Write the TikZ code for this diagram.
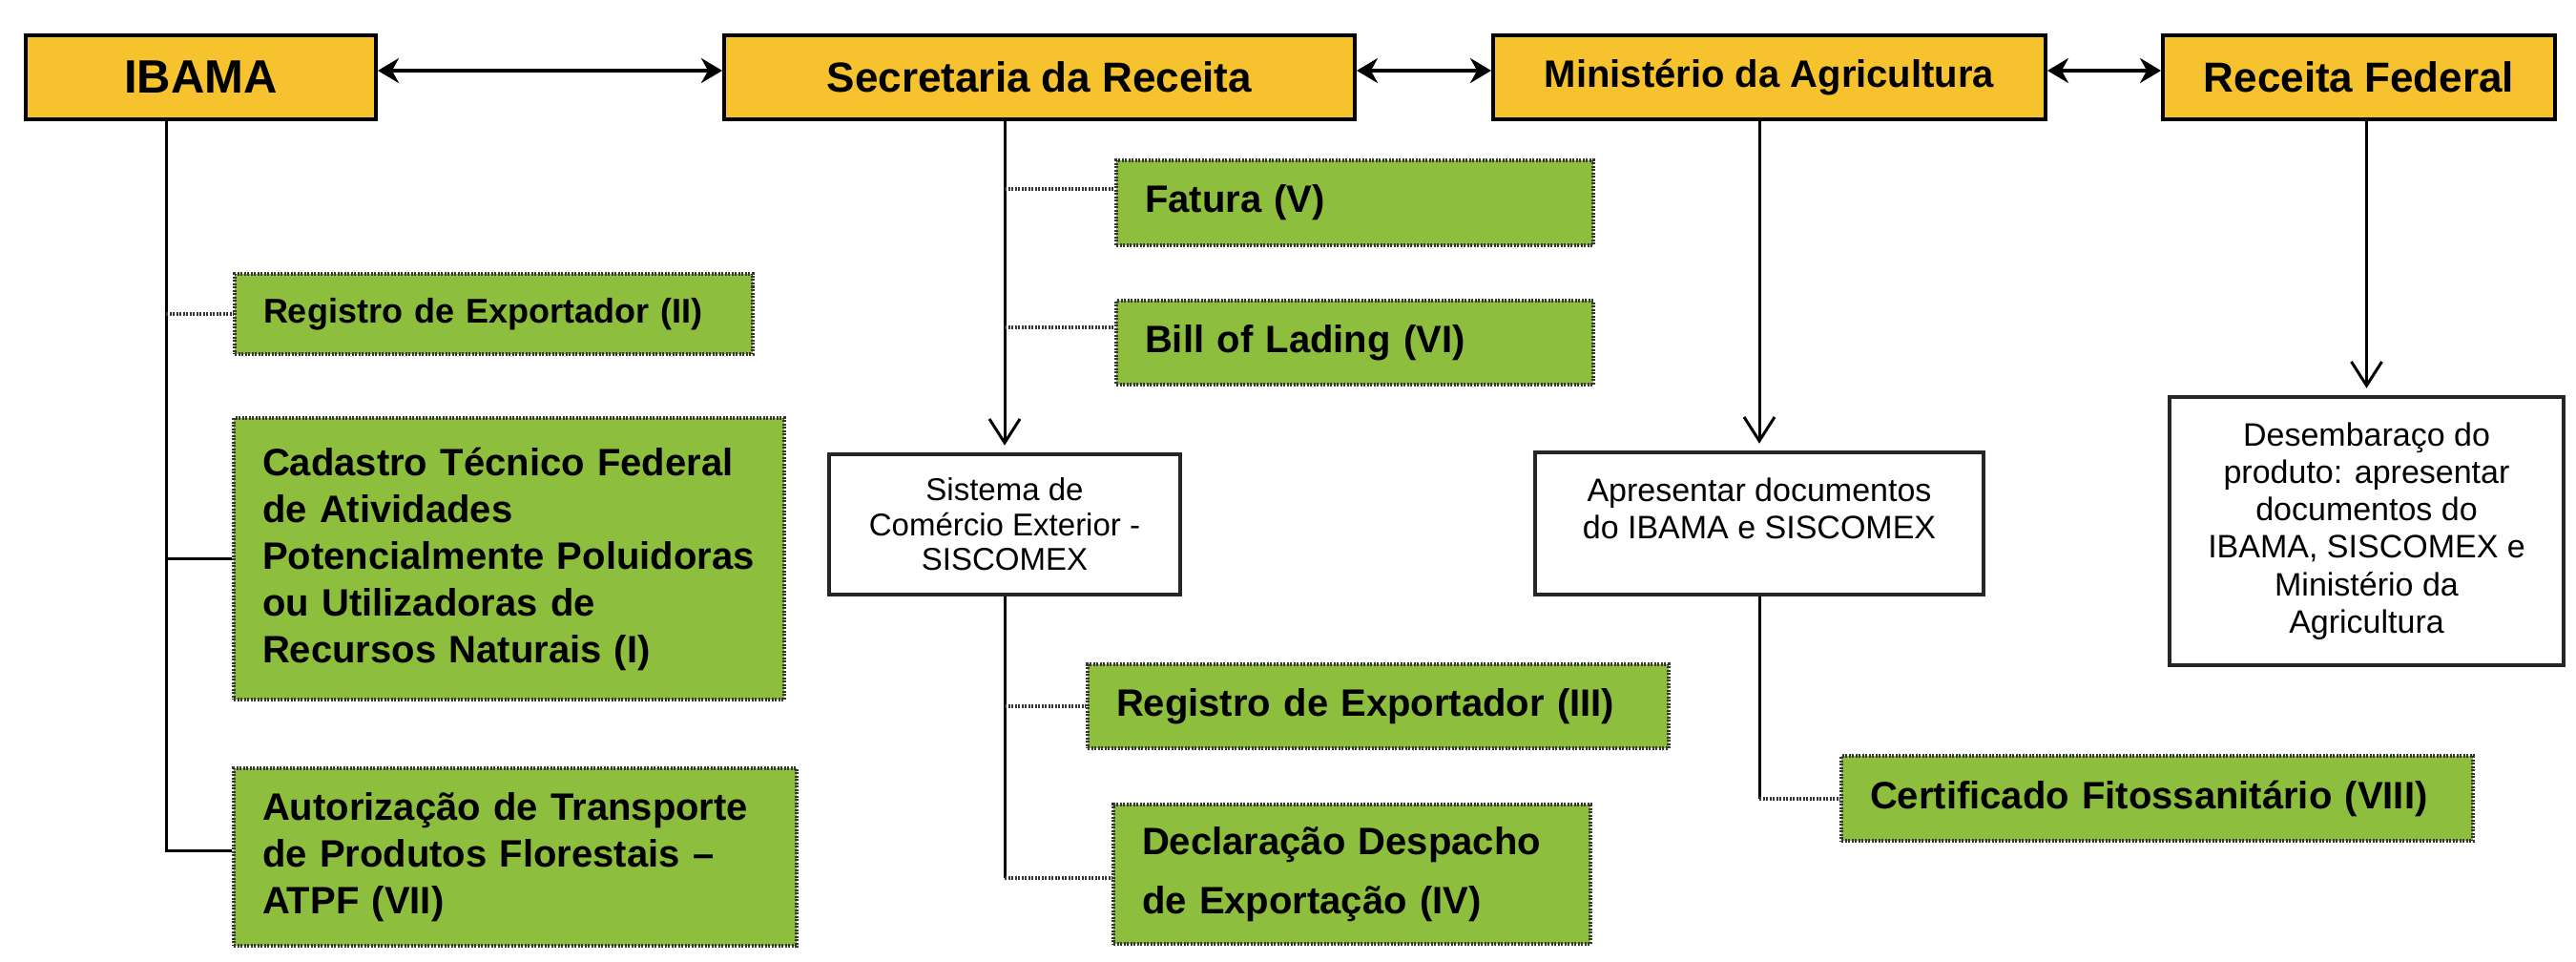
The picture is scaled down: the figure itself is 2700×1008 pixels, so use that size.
\documentclass[tikz,border=0pt]{standalone}
\usepackage{fontspec}
\setmainfont{Liberation Sans}
\usetikzlibrary{arrows.meta,calc}
\definecolor{gold}{RGB}{246,194,46}
\definecolor{leaf}{RGB}{141,190,61}
\definecolor{dotc}{RGB}{55,55,55}
\begin{document}
\begin{tikzpicture}[x=1pt,y=-1pt,
 title/.style={draw=black,line width=4pt,fill=gold,inner sep=0pt,text=black},
 gbox/.style={draw=dotc,line width=3.5pt,dash pattern=on 2pt off 1.5pt,fill=leaf,inner xsep=30pt,inner ysep=0pt,align=left,font=\bfseries\fontsize{40}{49}\selectfont},
 wbox/.style={draw=black!85,line width=4.5pt,fill=white,inner sep=0pt},
 wtext/.style={align=center,inner sep=0pt},
 trunk/.style={line width=3pt,black},
 dotline/.style={line width=4pt,dotc,dash pattern=on 2pt off 1.5pt},
 downarrow/.style={trunk,-{Straight Barb[length=25pt,width=32pt]},shorten >=7pt},
 dbl/.style={line width=4pt,{Stealth[length=22pt,width=26pt]}-{Stealth[length=22pt,width=26pt]}},
]
\fill[white] (0,0) rectangle (2700,1008);
\useasboundingbox (0,0) rectangle (2700,1008);

% top row
\node[title,minimum width=367pt,minimum height=88pt,font=\bfseries\fontsize{49}{55}\selectfont] (ibama) at (210.5,81) {IBAMA};
\node[title,minimum width=661pt,minimum height=88pt,font=\bfseries\fontsize{44}{50}\selectfont] (sec) at (1089.5,81) {Secretaria da Receita};
\node[title,minimum width=579pt,minimum height=88pt,font=\bfseries\fontsize{40}{46}\selectfont] (min) at (1854.5,81) {Ministério da Agricultura};
\node[title,minimum width=411pt,minimum height=88pt,font=\bfseries\fontsize{44}{50}\selectfont] (rf) at (2472.5,81) {Receita Federal};

\draw[dbl] ([yshift=7pt]ibama.east) -- ([yshift=7pt]sec.west);
\draw[dbl] ([yshift=7pt]sec.east) -- ([yshift=7pt]min.west);
\draw[dbl] ([yshift=7pt]min.east) -- ([yshift=7pt]rf.west);

% green boxes
\node[gbox,text width=483pt,minimum height=84pt,font=\bfseries\fontsize{36}{44}\selectfont] (reg2) at (517.5,329) {Registro de Exportador (II)};
\node[gbox,text width=517pt,minimum height=295pt] (cad) at (533.5,585.5) {Cadastro Técnico Federal\\de Atividades\\Potencialmente Poluidoras\\ou Utilizadoras de\\Recursos Naturais (I)};
\node[gbox,text width=530pt,minimum height=186pt] (atpf) at (540,898) {Autorização de Transporte\\de Produtos Florestais –\\ATPF (VII)};
\node[gbox,text width=440pt,minimum height=89pt] (fat) at (1420,212.5) {Fatura (V)};
\node[gbox,text width=440pt,minimum height=88pt] (bill) at (1420,359) {Bill of Lading (VI)};
\node[gbox,text width=549pt,minimum height=88pt] (reg3) at (1444.5,740) {Registro de Exportador (III)};
\node[gbox,text width=440pt,minimum height=146pt,font=\bfseries\fontsize{40}{62}\selectfont] (decl) at (1417,916) {Declaração Despacho\\de Exportação (IV)};
\node[gbox,text width=602pt,minimum height=89pt] (cert) at (2261,836.5) {Certificado Fitossanitário (VIII)};

% white boxes
\node[wbox,align=center,minimum width=368pt,minimum height=147pt,font=\fontsize{33}{36.5}\selectfont] (sis) at (1053,549.5) {Sistema de\\Comércio Exterior -\\SISCOMEX};
\node[wbox,minimum width=470pt,minimum height=149pt] (apr) at (1844,548.5) {};
\node[wtext,font=\fontsize{34}{39}\selectfont] (aprt) at ([yshift=16pt]apr.center) {Apresentar documentos\\do IBAMA e SISCOMEX};
\node[wbox,align=center,minimum width=413pt,minimum height=281pt,font=\fontsize{34}{39.3}\selectfont] (des) at (2480.5,556.5) {Desembaraço do\\produto: apresentar\\documentos do\\IBAMA, SISCOMEX e\\Ministério da\\Agricultura};

% IBAMA branch
\coordinate (ibx) at (174,0);
\coordinate (ibend) at (174,891);
\draw[trunk] (ibama.south -| ibx) -- (ibend) -- (ibend -| atpf.west);
\draw[trunk] (cad.west -| ibx) -- (cad.west);
\draw[dotline] (reg2.west -| ibx) -- (reg2.west);

% Secretaria branch
\coordinate (sx) at (1053,0);
\draw[downarrow] (sec.south -| sx) -- (sis.north);
\coordinate (fatc) at ([yshift=14.5pt]fat.west);
\coordinate (billc) at ([yshift=16pt]bill.west);
\draw[dotline] (fatc -| sx) -- (fatc);
\draw[dotline] (billc -| sx) -- (billc);
\coordinate (declc) at ([yshift=-4pt]decl.west);
\draw[trunk] (sis.south) -- (declc -| sis.south);
\draw[dotline] (declc -| sis.south) -- (declc);
\draw[dotline] (reg3.west -| sis.south) -- (reg3.west);

% Ministerio branch
\draw[downarrow] (min.south -| apr.north) -- (apr.north);
\draw[trunk] (apr.south) -- (cert.west -| apr.south);
\draw[dotline] (cert.west -| apr.south) -- (cert.west);

% Receita branch
\draw[downarrow] (rf.south -| des.north) -- (des.north);
\end{tikzpicture}
\end{document}
